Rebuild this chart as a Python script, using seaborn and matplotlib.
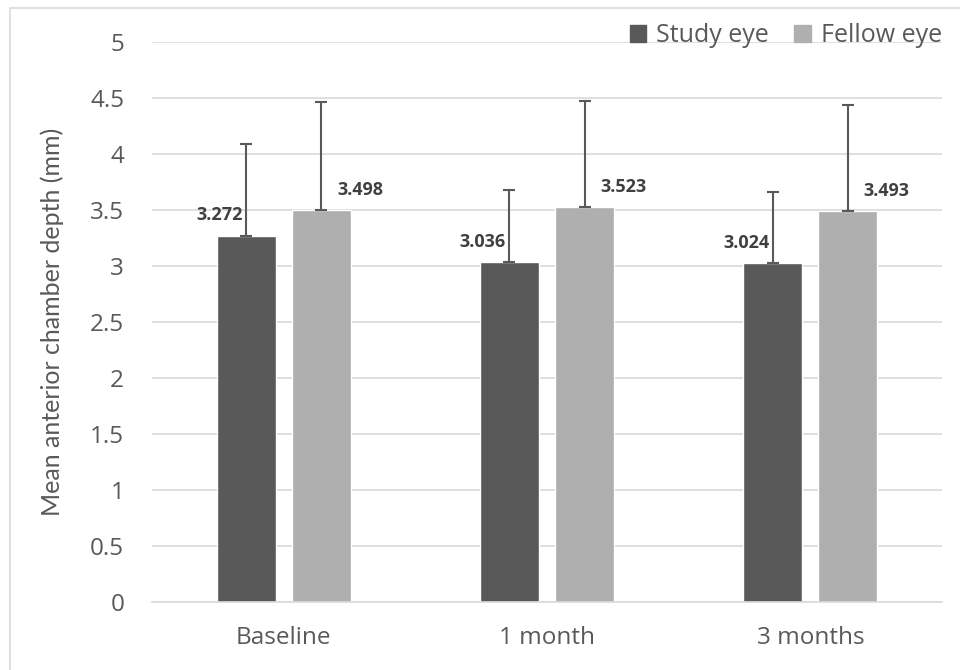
import numpy as np
import pandas as pd
import matplotlib.pyplot as plt
import matplotlib.patches as mpatches
import seaborn as sns

# Data
timepoints = ["Baseline", "1 month", "3 months"]
groups = ["Study eye", "Fellow eye"]
study_mean = [3.272, 3.036, 3.024]
fellow_mean = [3.498, 3.523, 3.493]
study_sd = [0.817, 0.643, 0.637]
fellow_sd = [0.966, 0.953, 0.947]

df = pd.DataFrame({
    "Time": timepoints * 2,
    "Eye": [groups[0]] * 3 + [groups[1]] * 3,
    "Depth": study_mean + fellow_mean,
    "SD": study_sd + fellow_sd,
})

sns.set_style("white")
plt.rcParams["font.family"] = ["Open Sans", "DejaVu Sans"]

colors = {"Study eye": "#595959", "Fellow eye": "#afafaf"}
txt_grey = "#595959"
grid_grey = "#d9d9d9"

fig = plt.figure(figsize=(9.6, 6.7), dpi=100)
ax = fig.add_axes([152 / 960, 1 - 602 / 670, 790 / 960, 560 / 670])

sns.barplot(data=df, x="Time", y="Depth", hue="Eye", order=timepoints,
            hue_order=groups, palette=colors, width=0.57, gap=0.214,
            errorbar=None, ax=ax, saturation=1)

# error bars (upper only) and value labels
for cont, eye in zip(ax.containers, groups):
    sub = df[df["Eye"] == eye].set_index("Time").loc[timepoints]
    for bar, (_, row) in zip(cont, sub.iterrows()):
        cx = bar.get_x() + bar.get_width() / 2
        ax.errorbar(cx, row["Depth"], yerr=[[0], [row["SD"]]], fmt="none",
                    ecolor="#595959", elinewidth=1.5, capsize=4.5, capthick=1.5,
                    zorder=3)
        if eye == "Study eye":
            ax.annotate(f"{row['Depth']:.3f}", (cx, row["Depth"]),
                        xytext=(-2.5, 14.5), textcoords="offset points",
                        ha="right", va="center", fontsize=13,
                        fontweight="bold", color="#404040")
        else:
            ax.annotate(f"{row['Depth']:.3f}", (cx, row["Depth"]),
                        xytext=(11.5, 14.5), textcoords="offset points",
                        ha="left", va="center", fontsize=13,
                        fontweight="bold", color="#404040")

ax.set_xlim(-0.5, 2.5)
ax.set_ylim(0, 5)
ax.set_yticks(np.arange(0, 5.01, 0.5))
ax.set_yticklabels([f"{v:g}" for v in np.arange(0, 5.01, 0.5)])
ax.yaxis.grid(True, color=grid_grey, linewidth=1.2)
ax.set_axisbelow(True)
for s in ["left", "right", "top"]:
    ax.spines[s].set_visible(False)
ax.spines["bottom"].set_color(grid_grey)
ax.spines["bottom"].set_linewidth(1.2)
ax.tick_params(axis="both", length=0, labelsize=17.5, colors=txt_grey)
ax.tick_params(axis="y", pad=20)
ax.tick_params(axis="x", pad=17)
ax.set_xlabel("")
ax.set_ylabel("Mean anterior chamber depth (mm)", fontsize=18,
              color=txt_grey, family=["Lato", "DejaVu Sans"])
ax.yaxis.set_label_coords(-0.112, 0.5)

handles = [mpatches.Patch(color=colors[g]) for g in groups]
ax.legend(handles, groups, ncol=2, frameon=False, fontsize=18,
          labelcolor=txt_grey, handlelength=0.67, handleheight=0.67,
          handletextpad=0.4, columnspacing=1.0, borderpad=0,
          borderaxespad=0, loc="center right",
          bbox_to_anchor=(942 / 960, 1 - 36 / 670),
          bbox_transform=fig.transFigure)

# outer chart border (right and bottom edges fall outside the image)
fig.patches.append(mpatches.Rectangle((10 / 960, -0.05), 1.0, 1 - 8 / 670 + 0.05,
                                      transform=fig.transFigure, fill=False,
                                      edgecolor=grid_grey, linewidth=1.2))

fig.savefig("out.png", dpi=100)
